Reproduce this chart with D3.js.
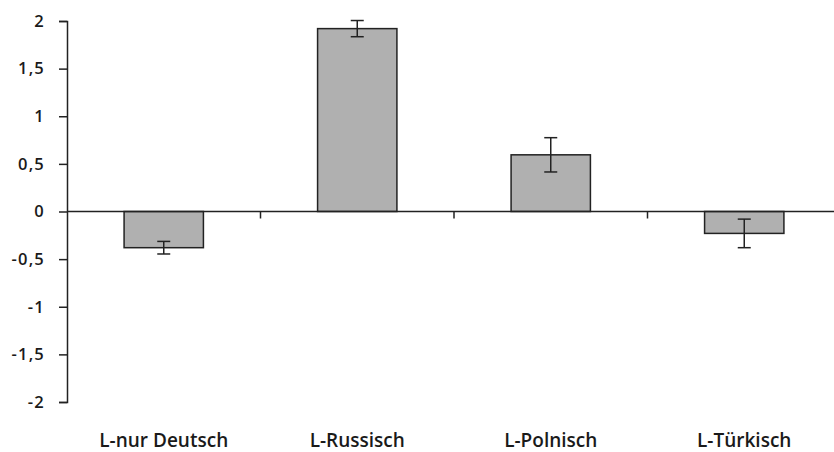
<!DOCTYPE html>
<html><head><meta charset="utf-8">
<script src="https://cdn.jsdelivr.net/npm/d3@7/dist/d3.min.js"></script>
<style>body{margin:0;background:#fff}svg{display:block}text{fill:#1a1a1a}</style>
</head><body><svg id="c" width="834" height="452"></svg>
<script>
const categories = ["L-nur Deutsch", "L-Russisch", "L-Polnisch", "L-Türkisch"];
const values = [-0.38, 1.92, 0.595, -0.23];
const errors = [0.066, 0.085, 0.18, 0.15];
const yTicks = [2, 1.5, 1, 0.5, 0, -0.5, -1, -1.5, -2];

const svg = d3.select("#c");
const x = d3.scaleBand().domain(categories).range([67, 841]).paddingInner(0.59).paddingOuter(0.295);
const xb = d3.scaleBand().domain(categories).range([67, 841]);
const y = d3.scaleLinear().domain([-2, 2]).range([402, 21]);
const fmt = d => String(d).replace(".", ",");

// y axis
const ya = svg.append("g").attr("transform", "translate(67,0)")
  .call(d3.axisLeft(y).tickValues(yTicks).tickFormat(fmt).tickSize(8).tickPadding(14));
ya.select(".domain").attr("stroke", "#222").attr("stroke-width", 1.5);
ya.selectAll(".tick line").attr("stroke", "#222").attr("stroke-width", 1.5);
ya.selectAll(".tick text")
  .style("font-family", "'Open Sans', sans-serif").style("font-weight", "600")
  .style("font-size", "16.5px").style("letter-spacing", "1.2px").style("fill", "#1a1a1a");

// bars
svg.append("g").selectAll("rect").data(categories).join("rect")
  .attr("x", d => x(d)).attr("width", x.bandwidth())
  .attr("y", (d, i) => y(Math.max(0, values[i])))
  .attr("height", (d, i) => Math.abs(y(values[i]) - y(0)))
  .attr("fill", "#b0b0b0").attr("stroke", "#222").attr("stroke-width", 1.5);

// x axis at zero
svg.append("line").attr("x1", 67).attr("x2", 834).attr("y1", y(0)).attr("y2", y(0))
  .attr("stroke", "#222").attr("stroke-width", 1.5);
svg.append("g").selectAll("line").data(categories.slice(1)).join("line")
  .attr("x1", d => xb(d)).attr("x2", d => xb(d))
  .attr("y1", y(0)).attr("y2", y(0) + 7)
  .attr("stroke", "#222").attr("stroke-width", 1.5);

// error bars
const eb = svg.append("g").attr("stroke", "#222").attr("stroke-width", 1.5);
categories.forEach((c, i) => {
  const cx = x(c) + x.bandwidth() / 2;
  const t = y(values[i] + errors[i]), b = y(values[i] - errors[i]);
  eb.append("line").attr("x1", cx).attr("x2", cx).attr("y1", t).attr("y2", b);
  eb.append("line").attr("x1", cx - 6.5).attr("x2", cx + 6.5).attr("y1", t).attr("y2", t);
  eb.append("line").attr("x1", cx - 6.5).attr("x2", cx + 6.5).attr("y1", b).attr("y2", b);
});

// category labels
svg.append("g").selectAll("text").data(categories).join("text")
  .attr("x", d => xb(d) + xb.bandwidth() / 2).attr("y", 447)
  .attr("text-anchor", "middle")
  .style("font-family", "'Open Sans', sans-serif").style("font-weight", "600")
  .style("font-size", "19px")
  .text(d => d);
</script></body></html>
